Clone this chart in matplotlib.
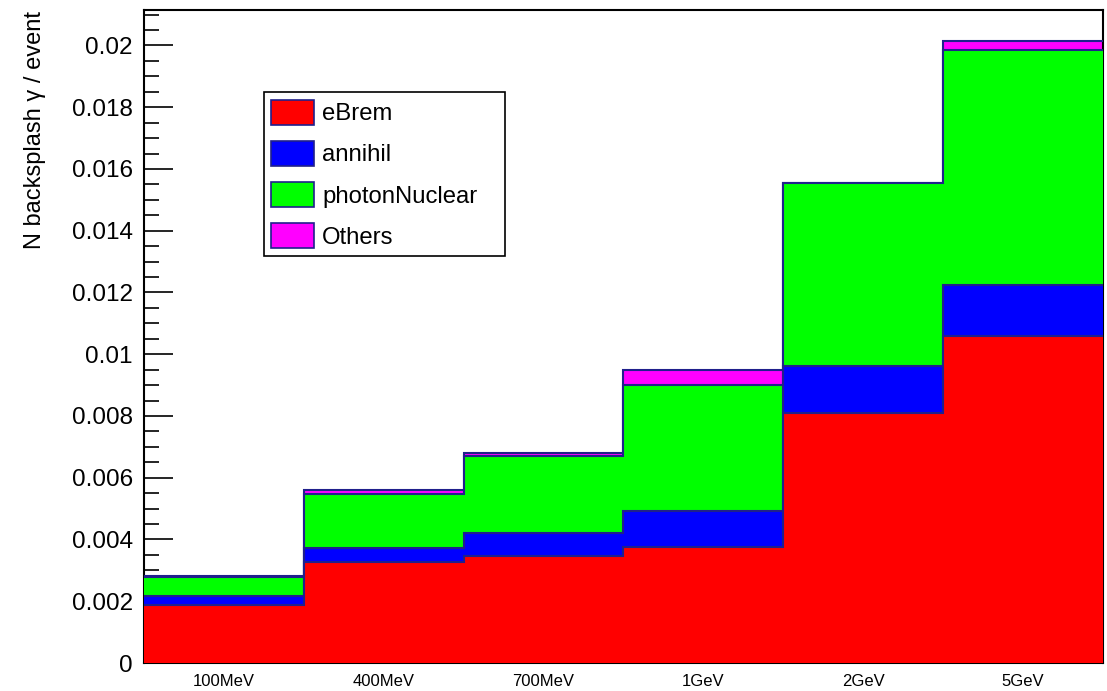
import numpy as np
import matplotlib
matplotlib.use("Agg")
import matplotlib.pyplot as plt
from matplotlib.patches import Patch
from matplotlib.ticker import MultipleLocator

plt.rcParams['font.family'] = ['Liberation Sans', 'DejaVu Sans']

# bin labels (beam energy)
energies = ["100MeV", "400MeV", "700MeV", "1GeV", "2GeV", "5GeV"]

# backsplash photons per event, by creation process
ebrem = [0.00188, 0.00326, 0.00347, 0.00377, 0.00809, 0.01060]
annihil = [0.00028, 0.00046, 0.00074, 0.00114, 0.00152, 0.00163]
photon_nuclear = [0.00061, 0.00176, 0.00248, 0.00410, 0.00593, 0.00761]
others = [0.00004, 0.00012, 0.00010, 0.00049, 0.00001, 0.00030]

names = ["eBrem", "annihil", "photonNuclear", "Others"]
colors = ["#ff0000", "#0000ff", "#00ff00", "#ff00ff"]
edge = "#20208c"

layers = np.array([ebrem, annihil, photon_nuclear, others])
cum = np.cumsum(layers, axis=0)
edges = np.arange(len(energies) + 1)

fig = plt.figure(figsize=(11.07, 6.91), dpi=100)
ax = fig.add_axes([0.130, 0.0405, 0.8664, 0.945])

# draw from the top layer down, like a ROOT THStack
z = 2
for i in range(len(names) - 1, -1, -1):
    ax.stairs(cum[i], edges, fill=True, color=colors[i], baseline=0, zorder=z)
    ax.stairs(cum[i], edges, fill=False, color=edge, linewidth=1.5, baseline=None, zorder=z + 1)
    z += 2

ax.set_xlim(0, len(energies))
ax.set_ylim(0, cum[-1].max() * 1.05)

ax.yaxis.set_minor_locator(MultipleLocator(0.0005))
yt = np.arange(0, 0.0201, 0.002)
ax.set_yticks(yt)
ax.set_yticklabels(["0" if v == 0 else ("%.3f" % v).rstrip("0") for v in yt])
ax.tick_params(axis="y", which="major", direction="in", length=21, width=1.2,
               labelsize=17.5, pad=8, right=False)
ax.tick_params(axis="y", which="minor", direction="in", length=11, width=1.2, right=False)

ax.set_xticks(edges[1:-1])
ax.set_xticklabels([])
ax.set_xticks(edges[:-1] + 0.5, minor=True)
ax.set_xticklabels(energies, minor=True)
ax.tick_params(axis="x", which="major", direction="in", length=13, width=1.2, top=False)
ax.tick_params(axis="x", which="minor", length=0, labelsize=12, pad=8)

for s in ax.spines.values():
    s.set_linewidth(1.5)

fig.text(35 / 1107, 1 - 11 / 691, "N backsplash \u03b3 / event", rotation=90,
         ha="center", va="top", fontsize=17)

handles = [Patch(facecolor=c, edgecolor=edge, linewidth=1.2) for c in colors]
leg = ax.legend(handles, names, loc="upper left",
                bbox_to_anchor=(0.125, 0.620, 0.251, 0.254), mode="expand",
                fontsize=17.2, handlelength=1.8, handleheight=1.21, labelspacing=0.66,
                handletextpad=0.33, borderpad=0.32, borderaxespad=0, fancybox=False,
                framealpha=1, edgecolor="black")
leg.get_frame().set_linewidth(1.2)
leg.set_zorder(20)

fig.savefig("out.png", dpi=100)
